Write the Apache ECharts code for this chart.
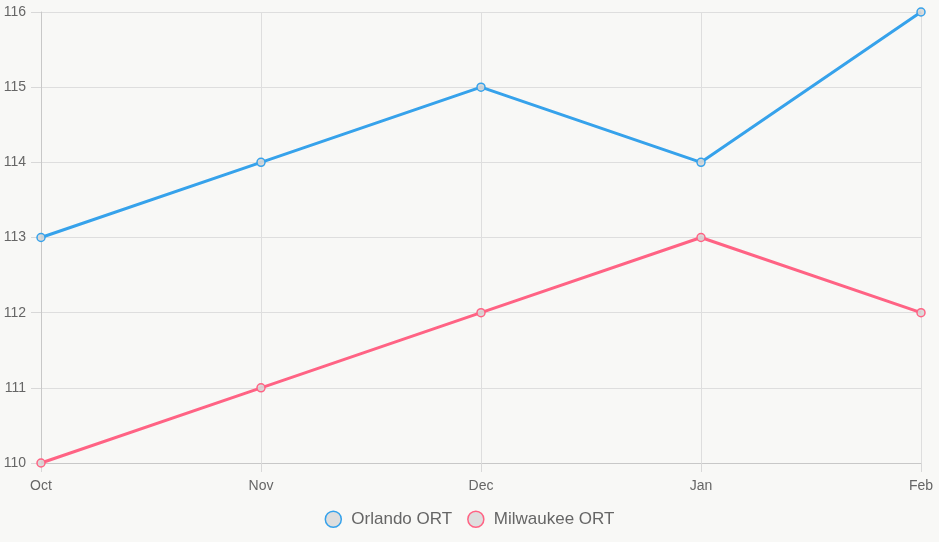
<!DOCTYPE html>
<html><head><meta charset="utf-8">
<script src="https://cdn.jsdelivr.net/npm/echarts@6/dist/echarts.min.js"></script>
<style>html,body{margin:0;padding:0;background:#f8f8f6;}#c{width:939px;height:542px;}</style>
</head><body><div id="c"></div>
<script>
const categories = ['Oct', 'Nov', 'Dec', 'Jan', 'Feb'];
const orlando = [113, 114, 115, 114, 116];
const milwaukee = [110, 111, 112, 113, 112];
const seriesNames = ['Orlando ORT', 'Milwaukee ORT'];
const colors = ['#36a2eb', '#ff6384'];

const chart = echarts.init(document.getElementById('c'), null, {renderer: 'canvas'});
const font = 'Liberation Sans, Arial, Helvetica, sans-serif';
function mk(name, data, color) {
  return {
    name, type: 'line', data,
    symbol: 'circle', symbolSize: 8,
    showSymbol: true,
    lineStyle: {color, width: 3},
    itemStyle: {color: 'rgba(215,215,215,0.9)', borderColor: color, borderWidth: 1.5},
    emphasis: {disabled: true},
    z: name === seriesNames[0] ? 3 : 2
  };
}
chart.setOption({
  backgroundColor: '#f8f8f6',
  animation: false,
  grid: {left: 41, right: 18, top: 12, bottom: 79, containLabel: false},
  legend: {
    bottom: 9, left: 'center',
    icon: 'circle', itemWidth: 16, itemHeight: 16, itemGap: 15,
    textStyle: {color: '#666', fontSize: 17, fontFamily: font, padding: [0, 0, 0, 5]},
    data: seriesNames.map((n, i) => ({name: n, itemStyle: {color: '#dedede', borderColor: colors[i], borderWidth: 1.5}}))
  },
  xAxis: {
    type: 'category', data: categories, boundaryGap: false,
    axisLine: {show: true, lineStyle: {color: '#c8c8c8', width: 1}},
    axisTick: {show: true, length: 9, lineStyle: {color: '#d8d8d8'}, alignWithLabel: true},
    axisLabel: {color: '#666', fontSize: 14, fontFamily: font, margin: 16},
    splitLine: {show: true, lineStyle: {color: '#dedede', width: 1}}
  },
  yAxis: {
    type: 'value', min: 110, max: 116, interval: 1,
    axisLine: {show: true, lineStyle: {color: '#c8c8c8', width: 1}},
    axisTick: {show: true, length: 10, lineStyle: {color: '#d8d8d8'}},
    axisLabel: {color: '#666', fontSize: 14, fontFamily: font, margin: 15},
    splitLine: {show: true, lineStyle: {color: '#dedede', width: 1}}
  },
  series: [mk(seriesNames[0], orlando, colors[0]), mk(seriesNames[1], milwaukee, colors[1])]
});
</script></body></html>
